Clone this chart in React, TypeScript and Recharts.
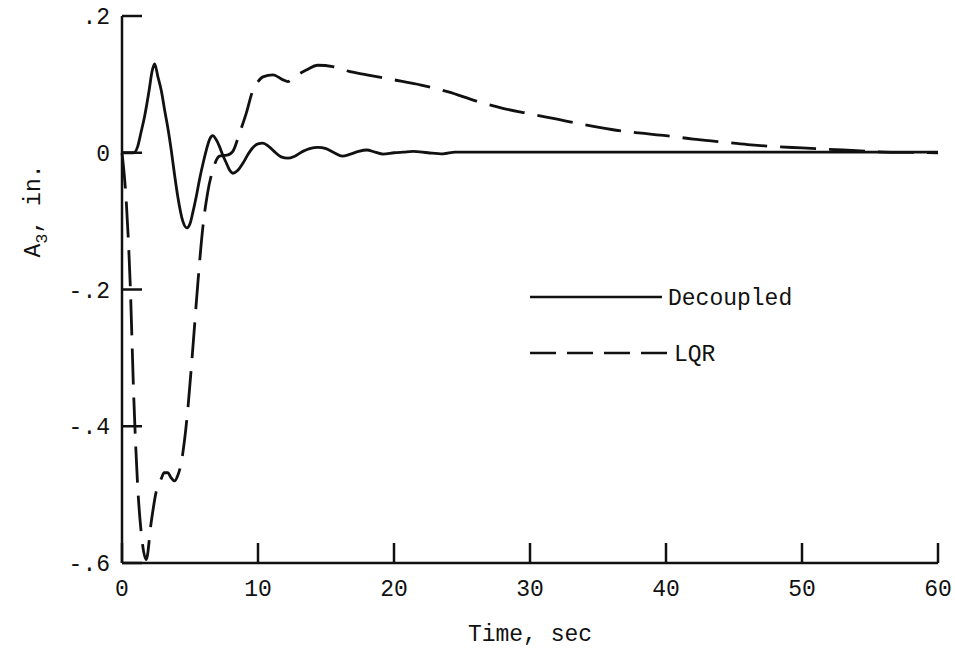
import { LineChart, Line, XAxis, YAxis, Legend } from "recharts";

// time (sec) / A3 (in.)
const decoupledTime = [
  0, 0.5, 0.85, 1.15, 1.4, 1.66, 2.0, 2.2, 2.4, 2.64, 2.9, 3.13, 3.4, 3.62, 3.85, 4.1, 4.47, 4.77, 5.0, 5.2,
  5.45, 5.7, 6.0, 6.2, 6.45, 6.68, 6.9, 7.17, 7.4, 7.67, 7.9, 8.15, 8.5, 8.9, 9.25, 9.6, 10.0, 10.35, 10.8, 11.3,
  11.7, 12.2, 12.7, 13.3, 13.8, 14.4, 15.0, 15.6, 16.2, 16.8, 17.4, 18.0, 18.6, 19.2, 20.0, 20.7, 21.4, 22.5, 23.6,
  24.5, 26, 30, 40, 50, 60,
];
const decoupledA3 = [
  0, 0, 0, 0.009, 0.03, 0.053, 0.092, 0.118, 0.13, 0.111, 0.09, 0.063, 0.033, 0.004, -0.03, -0.064, -0.1, -0.11,
  -0.104, -0.088, -0.065, -0.039, -0.012, 0.004, 0.02, 0.025, 0.02, 0.009, -0.003, -0.015, -0.025, -0.03, -0.026,
  -0.015, -0.003, 0.007, 0.013, 0.014, 0.009, 0, -0.006, -0.008, -0.005, 0.002, 0.006, 0.008, 0.006, 0, -0.005,
  -0.002, 0.002, 0.004, 0.001, -0.002, 0, 0.001, 0.002, 0, -0.0015, 0.001, 0.001, 0.001, 0.001, 0.001, 0.001,
];

const lqrTime = [
  0, 0.31, 0.6, 0.87, 1.16, 1.41, 1.78, 2.15, 2.5, 2.88, 3.1, 3.37, 3.6, 3.86, 4.1, 4.36, 4.6, 4.84, 5.2, 5.58,
  5.95, 6.3, 6.68, 7.17, 7.5, 7.8, 8.15, 8.65, 9.14, 9.6, 10.0, 10.36, 11.1, 11.8, 12.2, 12.57, 13.0, 13.55, 14.4,
  15.5, 16.7, 18, 19.9, 22, 24, 26, 28, 30, 32, 34, 36, 38, 40, 42, 44, 46, 48, 50, 52, 54, 56, 58, 60,
];
const lqrA3 = [
  0, -0.07, -0.19, -0.36, -0.49, -0.555, -0.595, -0.54, -0.497, -0.477, -0.468, -0.468, -0.475, -0.48, -0.472,
  -0.453, -0.42, -0.375, -0.288, -0.19, -0.108, -0.058, -0.025, -0.005, -0.004, -0.003, 0.002, 0.029, 0.058, 0.09,
  0.104, 0.111, 0.114, 0.107, 0.104, 0.109, 0.115, 0.121, 0.128, 0.126, 0.119, 0.114, 0.107, 0.099, 0.089, 0.076,
  0.065, 0.057, 0.049, 0.041, 0.034, 0.029, 0.025, 0.02, 0.016, 0.012, 0.009, 0.007, 0.005, 0.003, 0.001, 0.0005, 0,
];

const xTicks = [0, 10, 20, 30, 40, 50, 60];
const yTicks = [-0.6, -0.4, -0.2, 0, 0.2];
const yTickLabels = ["-.6", "-.4", "-.2", "0", ".2"];

const decoupled = decoupledTime.map((t, i) => ({ t, a3: decoupledA3[i] }));
const lqr = lqrTime.map((t, i) => ({ t, a3: lqrA3[i] }));

const FONT = "'Liberation Mono', 'Courier New', monospace";
const INK = "#111";

function LegendBox() {
  return (
    <svg width={320} height={110} style={{ overflow: "visible" }}>
      <line x1={10} x2={142} y1={27} y2={27} stroke={INK} strokeWidth={2.5} />
      <text x={148} y={27} dy="0.35em" fontFamily={FONT} fontSize={23} fill={INK}>
        Decoupled
      </text>
      <line x1={10} x2={148} y1={83} y2={83} stroke={INK} strokeWidth={2.5} strokeDasharray="26 11" />
      <text x={154} y={83} dy="0.35em" fontFamily={FONT} fontSize={23} fill={INK}>
        LQR
      </text>
    </svg>
  );
}

export default function App() {
  return (
    <div style={{ position: "absolute", left: 0, top: 0, background: "#fff" }}>
      <LineChart width={955} height={652} margin={{ top: 16, right: 17, bottom: 5, left: 60 }}>
        <XAxis
          type="number"
          dataKey="t"
          domain={[0, 60]}
          ticks={xTicks}
          height={84}
          stroke={INK}
          strokeWidth={2.5}
          tickSize={-20}
          tickMargin={37}
          tick={{ fill: INK, fontFamily: FONT, fontSize: 23 }}
          label={{
            value: "Time, sec",
            position: "insideBottom",
            offset: 6,
            style: { fill: INK, fontFamily: FONT, fontSize: 23 },
          }}
        />
        <YAxis
          type="number"
          dataKey="a3"
          domain={[-0.6, 0.2]}
          ticks={yTicks}
          width={62}
          stroke={INK}
          strokeWidth={2.5}
          tickSize={-20}
          tickMargin={32}
          tickFormatter={(v: number) => yTickLabels[yTicks.findIndex((y) => Math.abs(y - v) < 1e-6)]}
          tick={{ fill: INK, fontFamily: FONT, fontSize: 23 }}
          label={{
            content: () => (
              <text
                x={40}
                y={211}
                transform="rotate(-90 40 211)"
                textAnchor="middle"
                fontFamily={FONT}
                fontSize={23}
                fill={INK}
              >
                A<tspan fontSize={17} dy={7}>3</tspan>
                <tspan dy={-7}>, in.</tspan>
              </text>
            ),
          }}
        />
        <Legend
          layout="vertical"
          align="center"
          verticalAlign="middle"
          wrapperStyle={{ left: 520, top: 270, width: 320, height: 110 }}
          content={() => <LegendBox />}
        />
        <Line
          data={decoupled}
          dataKey="a3"
          name="Decoupled"
          type="monotone"
          stroke={INK}
          strokeWidth={2.8}
          dot={false}
          isAnimationActive={false}
        />
        <Line
          data={lqr}
          dataKey="a3"
          name="LQR"
          type="monotone"
          stroke={INK}
          strokeWidth={2.8}
          strokeDasharray="36 13"
          dot={false}
          isAnimationActive={false}
        />
      </LineChart>
    </div>
  );
}
